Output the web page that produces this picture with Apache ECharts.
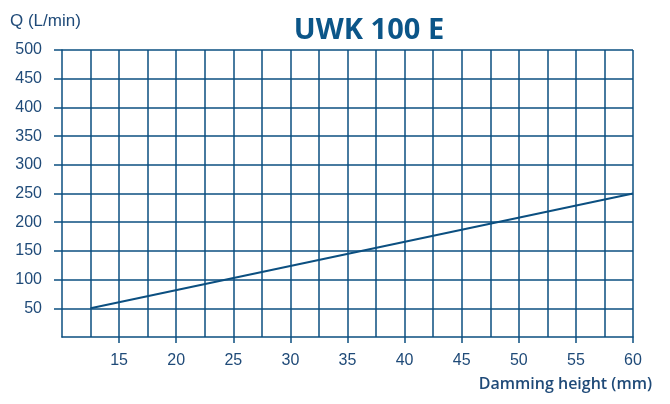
<!DOCTYPE html>
<html><head><meta charset="utf-8">
<script src="https://cdn.jsdelivr.net/npm/echarts@6/dist/echarts.min.js"></script>
<style>html,body{margin:0;padding:0;background:#fff}#c{width:670px;height:404px}</style>
</head><body><div id="c"></div>
<script>
const titleText = "UWK 100 E";
const yName = "Q (L/min)";
const xName = "Damming height (mm)";
const xTicks = [15, 20, 25, 30, 35, 40, 45, 50, 55, 60];
const yTicks = [50, 100, 150, 200, 250, 300, 350, 400, 450, 500];
const damming = [12.5, 60];
const flow = [50, 250];

const lineColor = "#0b4f80";
const textColor = "#1f4a78";
const chart = echarts.init(document.getElementById('c'));
chart.setOption({
  animation: false,
  title: {
    text: titleText, left: 364, top: 11, textAlign: 'center',
    textStyle: { fontFamily: 'Open Sans', fontWeight: 'bold', fontSize: 29, color: '#0b5588' }
  },
  graphic: [
    { type: 'text', left: 10, top: 13, style: { text: yName, fontFamily: 'Liberation Sans', fontSize: 17, fill: textColor } },
    { type: 'text', right: 18, top: 376, style: { text: xName, fontFamily: 'Open Sans', fontWeight: 600, fontSize: 16, fill: textColor } }
  ],
  grid: { left: 62, right: 37, top: 50, bottom: 67, containLabel: false },
  xAxis: {
    type: 'value', min: 10, max: 60, interval: 5,
    axisLine: { show: true, lineStyle: { color: lineColor, width: 1.5 } },
    axisTick: { show: true, length: 6, customValues: xTicks, lineStyle: { color: lineColor, width: 1.5 } },
    axisLabel: { customValues: xTicks, margin: 16, color: textColor, fontFamily: 'Liberation Sans', fontSize: 16 },
    splitLine: { show: true, lineStyle: { color: lineColor, width: 1.5 } },
    minorTick: { show: false, splitNumber: 2 },
    minorSplitLine: { show: true, lineStyle: { color: lineColor, width: 1.5 } }
  },
  yAxis: {
    type: 'value', min: 0, max: 500, interval: 50,
    axisLine: { show: true, lineStyle: { color: lineColor, width: 1.5 } },
    axisTick: { show: true, length: 8, customValues: yTicks, lineStyle: { color: lineColor, width: 1.5 } },
    axisLabel: { customValues: yTicks, margin: 20, color: textColor, fontFamily: 'Liberation Sans', fontSize: 16 },
    splitLine: { show: true, lineStyle: { color: lineColor, width: 1.5 } }
  },
  series: [{
    type: 'line', data: damming.map((x, i) => [x, flow[i]]),
    symbol: 'none', lineStyle: { color: lineColor, width: 2 }
  }]
});
</script></body></html>
